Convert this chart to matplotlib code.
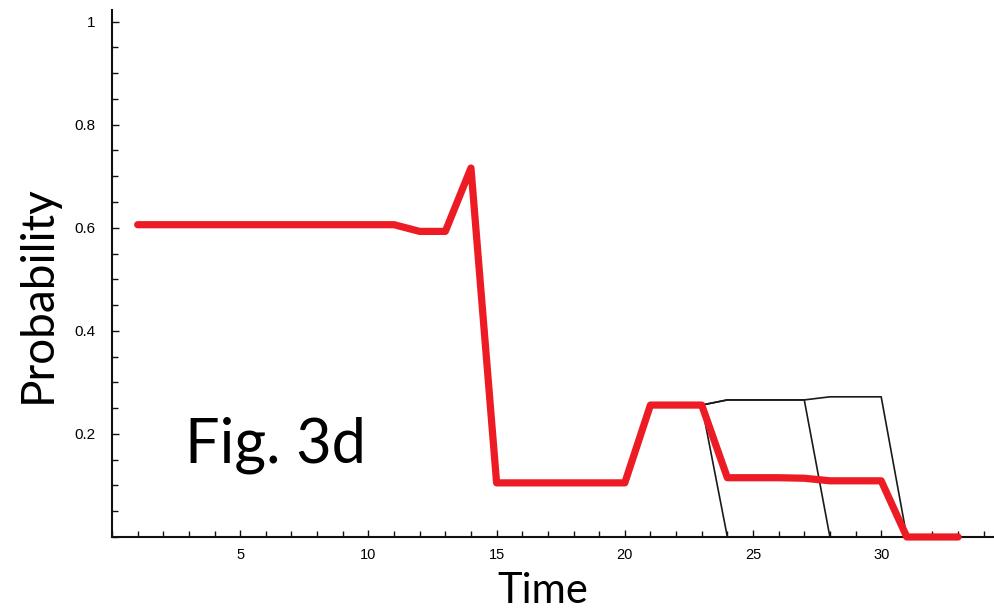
import matplotlib
matplotlib.use("Agg")
import matplotlib.pyplot as plt
from matplotlib.ticker import MultipleLocator, FixedLocator

time = list(range(1, 34))
mean_prob = [0.606]*11 + [0.593, 0.593, 0.716] + [0.105]*6 + [0.256, 0.256, 0.256,
             0.115, 0.115, 0.115, 0.114, 0.109, 0.109, 0.109, 0.0, 0.0, 0.0]
traj_a = mean_prob[:23] + [0.266, 0.266, 0.266, 0.266, 0.272, 0.272, 0.272, 0.0, 0.0, 0.0]
traj_b = mean_prob[:23] + [0.0]*10
traj_c = mean_prob[:23] + [0.266, 0.266, 0.266, 0.266, 0.0, 0.0, 0.0, 0.0, 0.0, 0.0]
x_ticks = [5, 10, 15, 20, 25, 30]
y_ticks = [0.2, 0.4, 0.6, 0.8, 1.0]
y_labels = ["0.2", "0.4", "0.6", "0.8", "1"]

fig = plt.figure(figsize=(9.94, 6.13), dpi=100)
ax = fig.add_axes([0.1127, 0.124, 0.8873, 0.86])

for tr in (traj_a, traj_b, traj_c):
    ax.plot(time, tr, color="#1a1a1a", lw=1.2, zorder=2, clip_on=False)
ax.plot(time, mean_prob, color="#ED1C24", lw=5.2, solid_capstyle="round",
        solid_joinstyle="round", zorder=3, clip_on=False)

ax.set_xlim(0, 34.4)
ax.set_ylim(0, 1.023)
for s in ("top", "right"):
    ax.spines[s].set_visible(False)
for s in ("left", "bottom"):
    ax.spines[s].set_linewidth(1.5)
    ax.spines[s].set_color("#111111")

ax.xaxis.set_major_locator(FixedLocator(x_ticks))
ax.xaxis.set_minor_locator(MultipleLocator(1))
ax.yaxis.set_major_locator(FixedLocator(y_ticks))
ax.yaxis.set_minor_locator(MultipleLocator(0.05))
ax.set_yticklabels(y_labels, fontsize=11, family="Liberation Sans")
ax.set_xticklabels([str(v) for v in x_ticks], fontsize=10.5, family="Liberation Sans")
ax.tick_params(which="both", direction="in", width=1, color="#111111")
ax.tick_params(which="major", length=5, pad=8)
ax.tick_params(which="minor", length=4)
ax.tick_params(axis="y", which="major", pad=12)

ax.set_xlabel("Time", fontsize=30, family="Lato")
ax.xaxis.set_label_coords(0.489, -0.066)
ax.set_ylabel("Probability", fontsize=33, family="Lato")
ax.yaxis.set_label_coords(-0.06, 0.46)
ax.text(0.083, 0.142, "Fig. 3d", transform=ax.transAxes, fontsize=44,
        family="Lato", ha="left", va="baseline")

fig.savefig("out.png", dpi=100)
